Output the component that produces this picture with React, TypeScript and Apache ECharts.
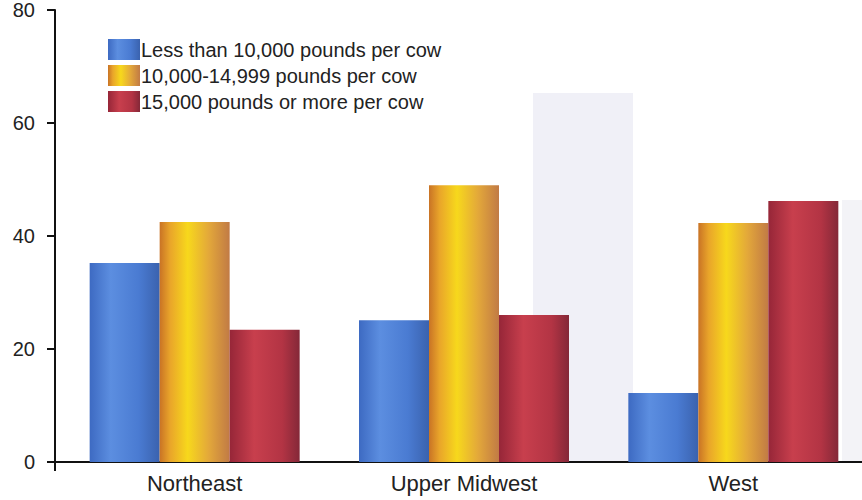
import React, { useEffect, useRef } from "react";
import * as echarts from "echarts";

const categories = ["Northeast", "Upper Midwest", "West"];
const seriesNames = [
  "Less than 10,000 pounds per cow",
  "10,000-14,999 pounds per cow",
  "15,000 pounds or more per cow",
];
const lowValues = [35.2, 25.1, 12.2];
const midValues = [42.5, 49.0, 42.3];
const highValues = [23.4, 26.0, 46.2];
const yTicks = [0, 20, 40, 60, 80];

const grad = (stops: [number, string][]) =>
  new echarts.graphic.LinearGradient(
    0, 0, 1, 0,
    stops.map(([offset, color]) => ({ offset, color }))
  );

const blue = () =>
  grad([
    [0, "#3d6ac2"],
    [0.3, "#5c8ee0"],
    [0.7, "#4a7bd2"],
    [1, "#3a62ae"],
  ]);
const yellow = () =>
  grad([
    [0, "#c97325"],
    [0.15, "#e9a52a"],
    [0.4, "#f7d81c"],
    [0.7, "#e3a83a"],
    [1, "#c17a45"],
  ]);
const red = () =>
  grad([
    [0, "#962638"],
    [0.35, "#c83f4d"],
    [0.75, "#b33444"],
    [1, "#842838"],
  ]);

export default function App() {
  const ref = useRef<HTMLDivElement>(null);
  useEffect(() => {
    if (!ref.current) return;
    const chart = echarts.init(ref.current, null, { renderer: "svg" });
    const font = "Liberation Sans, Arial, Helvetica, sans-serif";
    const colors = [blue(), yellow(), red()];
    const datas = [lowValues, midValues, highValues];
    chart.setOption({
      animation: false,
      backgroundColor: "#ffffff",
      textStyle: { fontFamily: font },
      graphic: [
        {
          type: "rect",
          shape: { x: 533, y: 93, width: 100, height: 369 },
          style: { fill: "#f0f0f7" },
          z: -10,
          silent: true,
        },
        {
          type: "rect",
          shape: { x: 842, y: 200, width: 28, height: 262 },
          style: { fill: "#f3f3f7" },
          z: -10,
          silent: true,
        },
        {
          type: "line",
          shape: { x1: 55, y1: 462, x2: 61, y2: 462 },
          style: { stroke: "#111", lineWidth: 2 },
          z: 10,
          silent: true,
        },
        {
          type: "line",
          shape: { x1: 55, y1: 462, x2: 55, y2: 471 },
          style: { stroke: "#111", lineWidth: 2 },
          z: 10,
          silent: true,
        },
      ],
      legend: {
        orient: "vertical",
        left: 103,
        top: 34,
        itemWidth: 32,
        itemHeight: 21,
        itemGap: 5,
        icon: "rect",
        textStyle: { fontSize: 20, color: "#222", fontFamily: font, padding: [0, 0, 0, -4] },
        data: seriesNames,
      },
      grid: { left: 60, width: 808, top: 10, bottom: 38 },
      xAxis: {
        type: "category",
        data: categories,
        axisLine: { lineStyle: { color: "#111", width: 2 } },
        axisTick: { alignWithLabel: true, length: 7, lineStyle: { color: "#111", width: 2 } },
        axisLabel: { fontSize: 22, color: "#222", margin: 10, fontFamily: font },
      },
      yAxis: {
        type: "value",
        min: 0,
        max: 80,
        interval: 20,
        offset: 5,
        axisLine: { show: true, lineStyle: { color: "#111", width: 2 } },
        axisTick: { show: true, length: 8, lineStyle: { color: "#111", width: 2 } },
        axisLabel: {
          fontSize: 20,
          color: "#222",
          margin: 20,
          fontFamily: font,
          padding: [6, 0, 0, 0],
          formatter: (v: number) => (yTicks.includes(v) ? String(v) : ""),
        },
        splitLine: { show: false },
      },
      series: seriesNames.map((name, i) => ({
        name,
        type: "bar",
        data: datas[i],
        barWidth: 70,
        barGap: "0%",
        itemStyle: { color: colors[i] },
      })),
    });
    return () => chart.dispose();
  }, []);
  return (
    <div
      style={{
        position: "absolute",
        left: 0,
        top: 0,
        width: 862,
        height: 500,
        overflow: "hidden",
      }}
    >
      <div ref={ref} style={{ width: 870, height: 500 }} />
    </div>
  );
}
